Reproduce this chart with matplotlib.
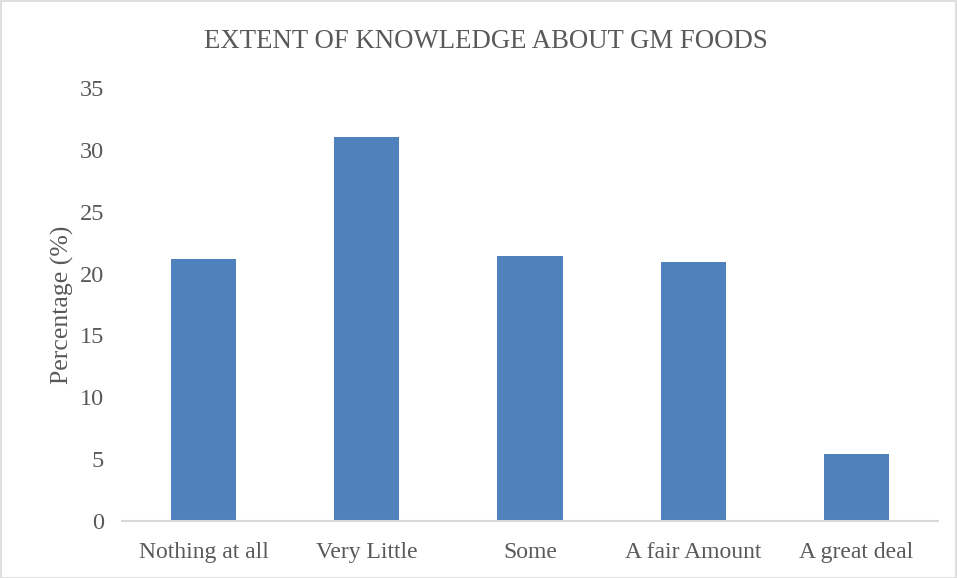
import matplotlib
matplotlib.use("Agg")
import matplotlib.pyplot as plt
from matplotlib.patches import Rectangle

categories = ["Nothing at all", "Very Little", "Some", "A fair Amount", "A great deal"]
values = [21.2, 31.0, 21.4, 20.9, 5.4]
yticks = [0, 5, 10, 15, 20, 25, 30, 35]
title = "EXTENT OF KNOWLEDGE ABOUT GM FOODS"
ylabel = "Percentage (%)"

plt.rcParams['font.family'] = ['Liberation Serif', 'DejaVu Serif']
txt = "#595959"

fig = plt.figure(figsize=(9.57, 5.78), dpi=100)
W, H = 957, 578
ax = fig.add_axes([122 / W, (H - 521) / H, (938 - 122) / W, (521 - 88) / H])

x = list(range(len(categories)))
ax.bar(x, values, width=0.4, color="#4F81BD", zorder=2)
ax.set_xlim(-0.5, len(categories) - 0.5)
ax.set_ylim(0, 35)
ax.set_yticks(yticks)
ax.set_yticklabels([str(t) for t in yticks], fontsize=17.5, color=txt)
ax.set_xticks(x)
ax.set_xticklabels(categories, fontsize=17, color=txt)
ax.tick_params(axis="both", length=0)
ax.tick_params(axis="y", pad=13)
ax.tick_params(axis="x", pad=15)
for s in ["top", "right", "left"]:
    ax.spines[s].set_visible(False)
ax.spines["bottom"].set_color("#D9D9D9")
ax.spines["bottom"].set_linewidth(1.5)
ax.set_ylabel(ylabel, fontsize=18.5, color=txt, labelpad=4)

fig.text(486 / W, 1 - 42 / H, title, ha="center", va="center", fontsize=19.3, color=txt)

fig.patches.append(Rectangle((0.5 / W, 0.5 / H), 1 - 1.5 / W, 1 - 1.5 / H,
                             transform=fig.transFigure, fill=False,
                             edgecolor="#D9D9D9", linewidth=1.2))

fig.savefig("out.png", dpi=100)
